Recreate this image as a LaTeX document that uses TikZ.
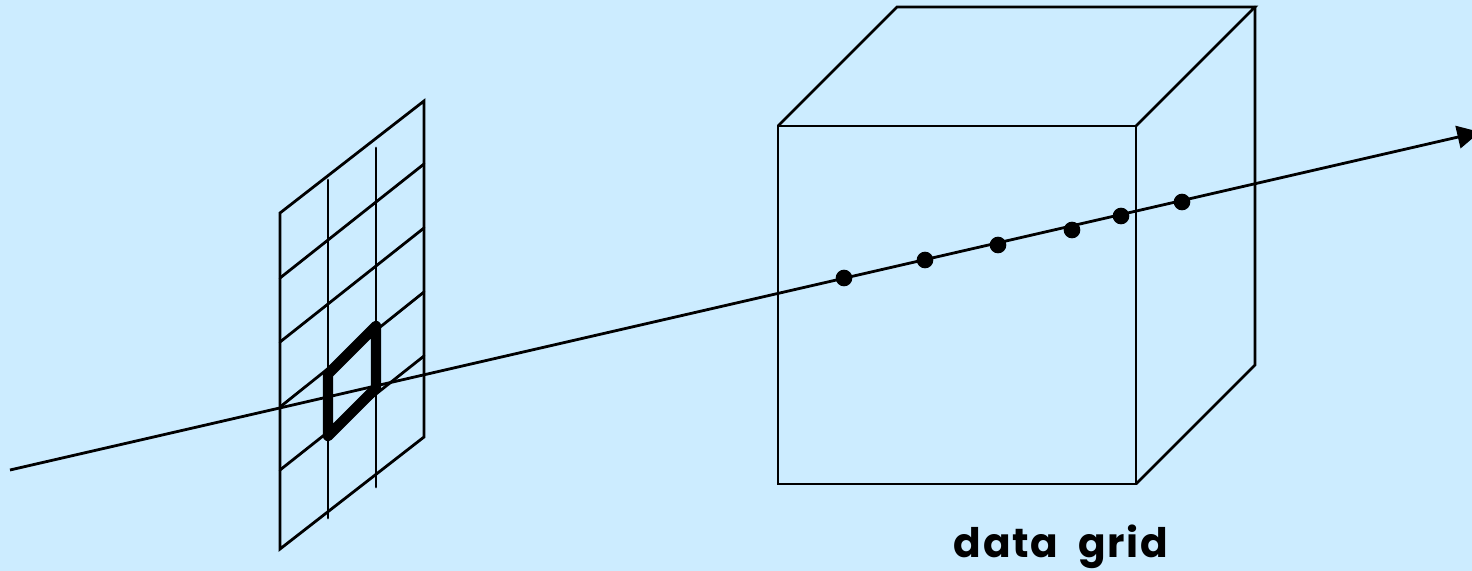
\documentclass[tikz,border=0pt]{standalone}
\usepackage{fontspec}
\setmainfont{Poppins}[LetterSpace=4]
\usetikzlibrary{arrows.meta}
\definecolor{bgblue}{HTML}{CCECFF}
\tikzset{
  thinline/.style={draw=black,line width=2.1pt,line cap=round,line join=miter},
  cellline/.style={draw=black,line width=7.8pt,line join=round,line cap=round},
  raydot/.style={circle,fill=black,draw=none,minimum size=12.5pt,inner sep=0pt},
  raytip/.style={-{Triangle[length=17pt,width=17pt]}},
  caption/.style={font=\fontsize{30.5}{40}\selectfont\bfseries,text=black,inner sep=0pt,anchor=base}
}
\begin{document}
\begin{tikzpicture}[x=0.75pt,y=-0.75pt]
\useasboundingbox (0,0) rectangle (1472,571);
\clip (0,0) rectangle (1472,571);
\fill[bgblue] (0,0) rectangle (1472,571);
% grid plane
\coordinate (gtl) at (280,213); \coordinate (gtr) at (424,101);
\coordinate (gbl) at (280,549); \coordinate (gbr) at (424,437);
\draw[thinline] (gtl) -- (gtr) -- (gbr) -- (gbl) -- cycle;
\foreach \l/\r in {278/164,342/228,407/292,470/356}
  \draw[thinline] (280,\l) -- (424,\r);
\draw[thinline] (328,180) -- (328,518);
\draw[thinline] (376,148) -- (376,487);
% cube
\coordinate (fa) at (778,126); \coordinate (fb) at (1136,126);
\coordinate (fc) at (1136,484); \coordinate (fd) at (778,484);
\coordinate (ba) at (897,7); \coordinate (bb) at (1255,7); \coordinate (bc) at (1255,365);
\draw[thinline] (fa) -- (fb) -- (fc) -- (fd) -- cycle;
\draw[thinline] (fa) -- (ba) -- (bb) -- (fb);
\draw[thinline] (bb) -- (bc) -- (fc);
% ray
\coordinate (raystart) at (10,470);
\coordinate (rayend) at (1480,132);
\draw[thinline,line cap=butt,raytip] (raystart) -- (rayend);
% highlighted cell
\coordinate (ca) at (328,374); \coordinate (cb) at (376,326);
\coordinate (cc) at (376,388); \coordinate (cd) at (328,436);
\draw[cellline] (ca) -- (cb) -- (cc) -- (cd) -- cycle;
% samples
\foreach \n/\x/\y in {s1/844/278,s2/925/260,s3/998/245,s4/1072/230,s5/1121/216,s6/1182/202}
  \node[raydot] (\n) at (\x,\y) {};
\node[caption] (label) at (1061,557) {data\hspace{0.5em}grid};
\end{tikzpicture}
\end{document}
